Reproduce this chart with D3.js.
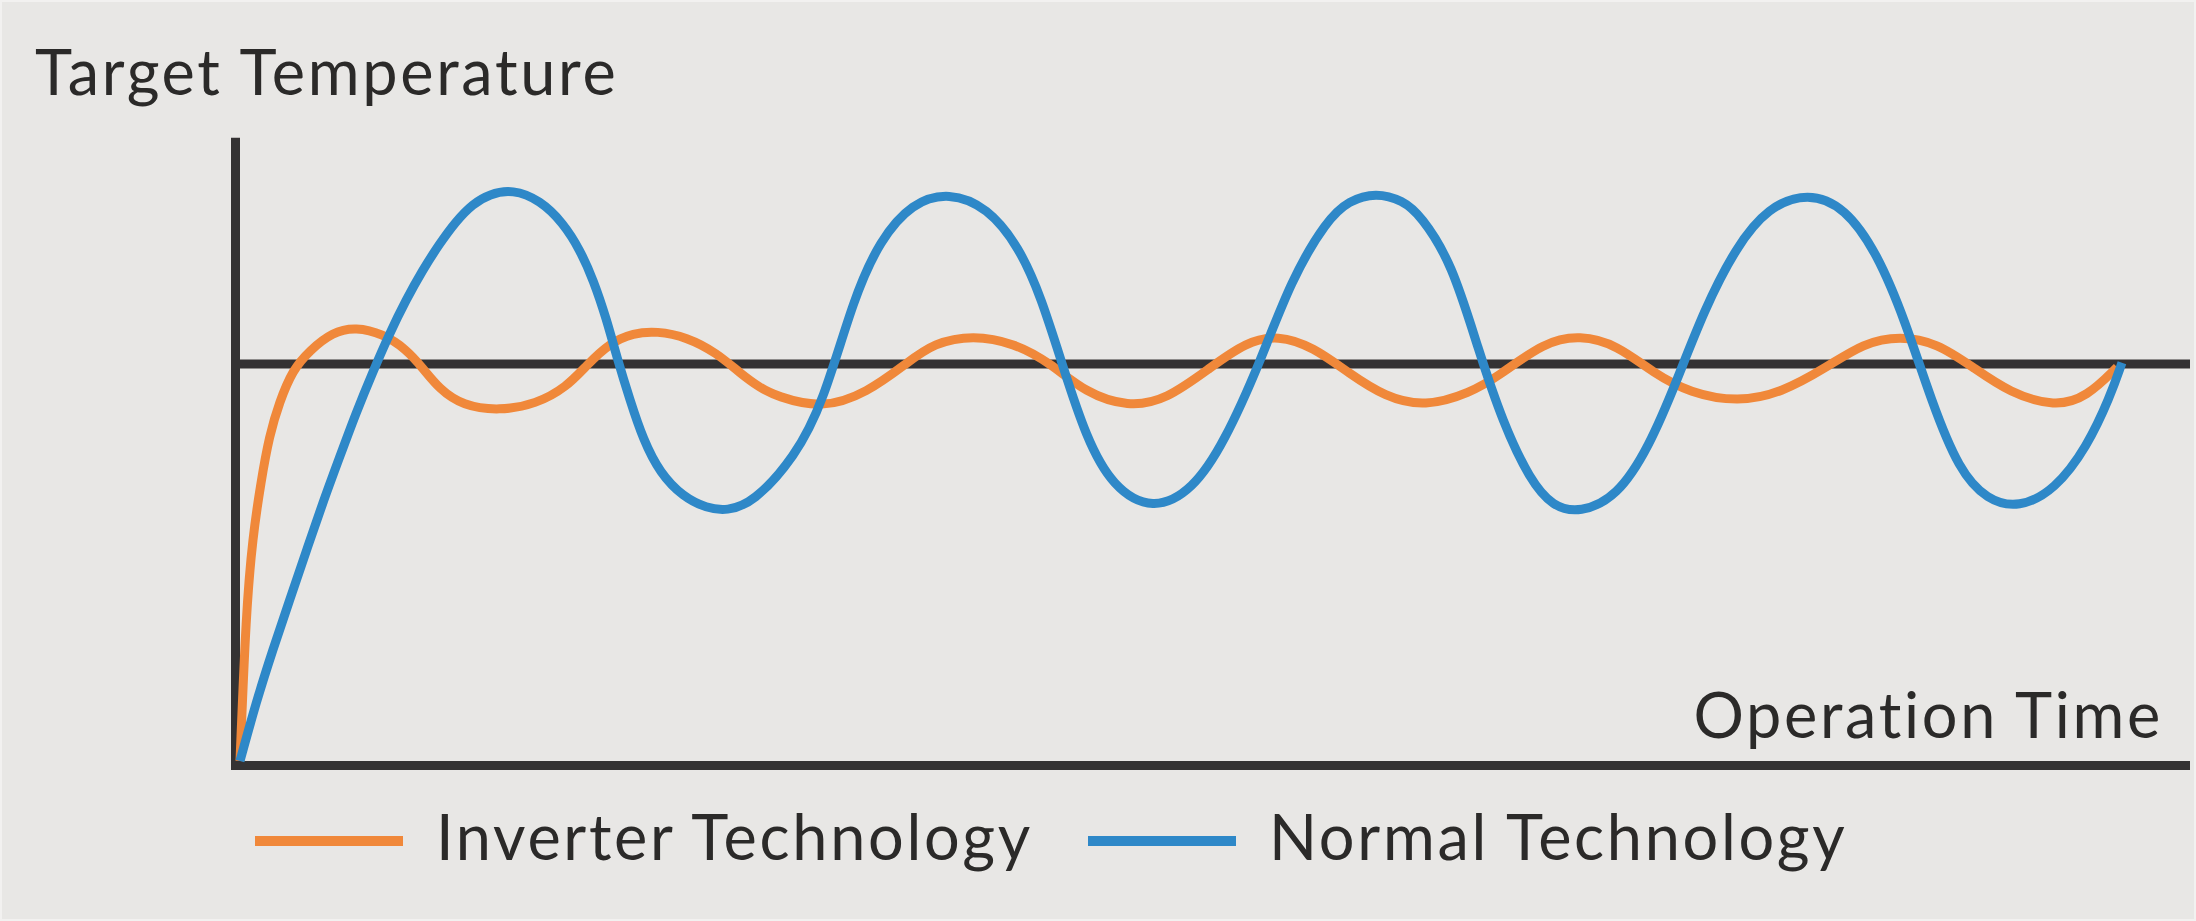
<!DOCTYPE html>
<html lang="en">
<head>
  <meta charset="UTF-8" />
  <title>Inverter vs Normal Technology</title>
  <style>
    html, body { margin: 0; padding: 0; background: #e8e7e5; }
    svg { display: block; }
    text { font-family: Lato, "Noto Sans", sans-serif; fill: #2b2a29; font-variant-ligatures: none; letter-spacing: 2.7px; }
  </style>
</head>
<body>
<div id="chart"></div>
<script src="https://d3js.org/d3.v7.min.js"></script>
<script>
  // values: time 0..100 along the axis, temperature where 100 = target
  const inverterTime = [0, 0.31, 0.65, 1.08, 1.5, 2.02, 2.7, 3.55, 4.75, 5.95, 7.32, 8.51, 9.37, 10.22,
    11.42, 13.3, 15.18, 16.75, 17.78, 18.97, 20.17, 21.37, 22.91, 24.45, 25.64, 26.67, 27.49, 29.85,
    32.15, 34.21, 35.59, 37.59, 39.69, 41.54, 43.38, 45.54, 47.49, 49.79, 51.59, 53.23, 55.03, 56.87,
    58.72, 60.77, 63.08, 64.62, 66.87, 68.72, 70.62, 72.49, 74.36, 76.82, 79.03, 81.38, 83.26, 85.13,
    87.03, 88.87, 90.77, 93.08, 94.72, 96.26];
  const inverterTemp = [0, 37.5, 56.4, 70.5, 81.9, 90.4, 98.5, 103.3, 108.1, 109.3, 107.6, 103.8, 99, 93.7,
    89.5, 88.2, 89.9, 94.2, 99.7, 105.3, 107.8, 108.3, 106.8, 102.8, 97.7, 94, 91.9, 88.7,
    92.7, 100.3, 105.3, 107.3, 105.3, 100.3, 92.7, 89.2, 90.9, 99.2, 105.5, 107.3, 104.3, 97.7,
    91.7, 89.2, 92.7, 97.2, 105.5, 107.3, 104.8, 97.7, 92.7, 90.4, 92.7, 99.2, 105.3, 107.1,
    105.3, 99.2, 92.7, 89.2, 91.7, 99.2];

  const normalTime = [0, 0.82, 1.68, 2.53, 3.38, 4.24, 5.09, 5.95, 6.81, 7.66, 8.51, 9.37, 10.22, 11.08,
    11.93, 12.79, 13.98, 15.38, 16.58, 17.44, 18.12, 18.81, 19.32, 20, 20.68, 21.54, 22.73, 23.93,
    24.96, 26.32, 28.46, 29.9, 31.49, 32.82, 34.46, 36.36, 38.33, 39.95, 41.08, 42.21, 43.38, 44.74,
    46.82, 48.87, 50.46, 52.31, 53.9, 55.74, 56.87, 58.26, 59.63, 60.54, 62.15, 63.51, 64.77, 66.15,
    67.33, 68.72, 70.62, 72.26, 73.64, 75.08, 76.72, 78.36, 80.41, 82.31, 83.95, 85.38, 86.77, 88.15,
    89.59, 91.23, 93.08, 94.72, 95.9, 96.51];
  const normalTemp = [0, 14.7, 28, 40.3, 52.6, 65, 76.3, 87.7, 98, 107.6, 116.1, 123.7, 130.2, 136,
    140.3, 142.8, 144, 141.3, 135.5, 128.7, 121.2, 111.1, 101.8, 90.9, 80.9, 72.5, 66.5, 63.7,
    63, 65, 76.6, 90.2, 116.9, 131.2, 140.6, 143.3, 139.5, 129.5, 116.9, 99.2, 81.6, 69,
    63, 68.3, 80.1, 100.3, 121.2, 136.3, 141.2, 143.2, 141.2, 137.5, 125.5, 103.5, 85.1, 70.8,
    64, 62.5, 66.5, 79.1, 95.2, 113.6, 129.5, 139.5, 143.3, 139.5, 128, 111.1, 90.2, 73.3,
    65.7, 63.7, 68.3, 79.1, 91.7, 100.3];

  const targetTemp = 100;
  const yAxisTop = 157;
  const seriesNames = ['Inverter Technology', 'Normal Technology'];
  const seriesColors = ['#f0883a', '#2e88c8'];
  const yTitle = 'Target Temperature';
  const xTitle = 'Operation Time';

  const W = 2196, H = 921;
  const svg = d3.select('#chart').append('svg').attr('width', W).attr('height', H);

  svg.append('rect').attr('x', 1).attr('y', 1).attr('width', W - 2).attr('height', H - 2)
     .attr('fill', '#e8e7e5').attr('stroke', '#f2f1f0').attr('stroke-width', 2);

  const x = d3.scaleLinear().domain([0, 100]).range([240, 2190]);
  const y = d3.scaleLinear().domain([0, targetTemp]).range([761, 364]);

  const axisColor = '#343233';
  const axisW = 9;

  // y axis
  svg.append('line')
     .attr('x1', x(0) - axisW / 2).attr('x2', x(0) - axisW / 2)
     .attr('y1', y(yAxisTop)).attr('y2', y(0) + axisW)
     .attr('stroke', axisColor).attr('stroke-width', axisW);
  // x axis
  svg.append('line')
     .attr('x1', x(0) - axisW).attr('x2', x(100))
     .attr('y1', y(0) + axisW / 2).attr('y2', y(0) + axisW / 2)
     .attr('stroke', axisColor).attr('stroke-width', axisW);
  // target line
  svg.append('line')
     .attr('x1', x(0)).attr('x2', x(100))
     .attr('y1', y(targetTemp)).attr('y2', y(targetTemp))
     .attr('stroke', axisColor).attr('stroke-width', axisW);

  const line = d3.line().x(d => x(d[0])).y(d => y(d[1])).curve(d3.curveBasis);
  const inverterData = inverterTime.map((t, i) => [t, inverterTemp[i]]);
  const normalData = normalTime.map((t, i) => [t, normalTemp[i]]);

  [inverterData, normalData].forEach((data, i) => {
    svg.append('path').datum(data)
       .attr('fill', 'none').attr('stroke', seriesColors[i]).attr('stroke-width', 9)
       .attr('d', line);
  });

  svg.append('text').attr('x', 35).attr('y', 95)
     .attr('font-size', 63).text(yTitle);
  svg.append('text').attr('x', 2163).attr('y', 738)
     .attr('text-anchor', 'end').attr('font-size', 63).text(xTitle);

  // legend
  const legendX = [255, 1088];
  seriesNames.forEach((name, i) => {
    const g = svg.append('g').attr('transform', `translate(${legendX[i]},0)`);
    g.append('line').attr('x1', 0).attr('x2', 148).attr('y1', 841).attr('y2', 841)
     .attr('stroke', seriesColors[i]).attr('stroke-width', 10);
    g.append('text').attr('x', 181).attr('y', 860).attr('font-size', 63).text(name);
  });
</script>
</body>
</html>
